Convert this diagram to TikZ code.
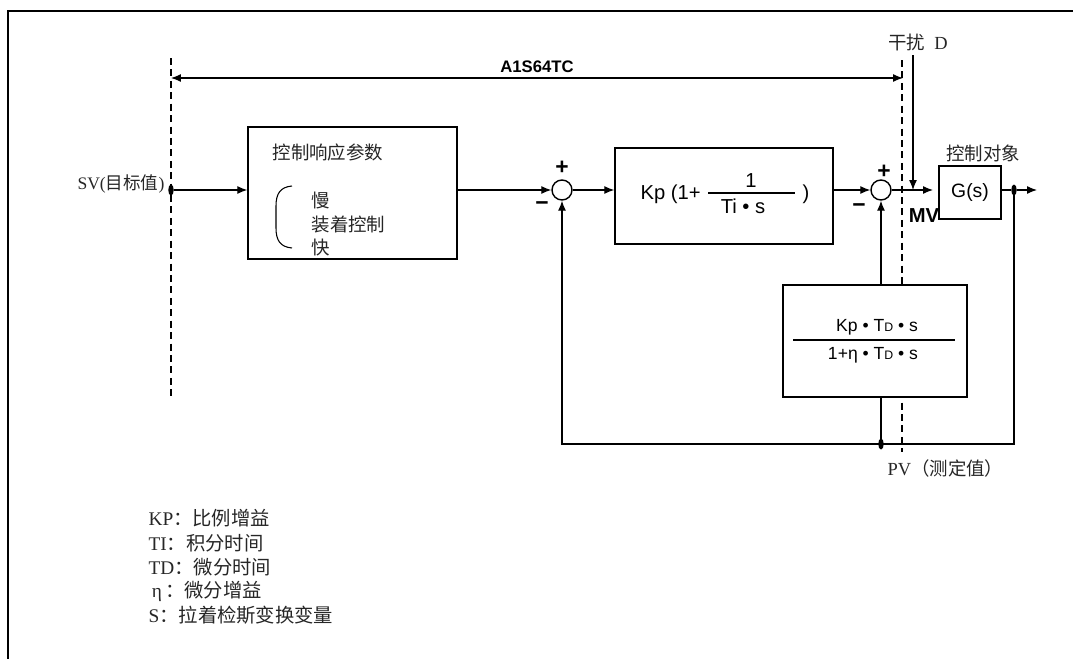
\documentclass[tikz,border=0pt]{standalone}
\usepackage{fontspec}
\setmainfont{Liberation Serif}
\newfontfamily\cjk{Noto Sans CJK SC}
\newfontfamily\sansf{Liberation Sans}
\usetikzlibrary{arrows.meta,shapes.geometric}
\begin{document}
\begin{tikzpicture}[x=0.02cm,y=-0.02cm,
  line width=0.7pt,
  >={Latex[length=2mm,width=1.6mm]},
  blk/.style={draw, fill=white, line width=0.8pt, inner sep=0pt},
  sumnode/.style={draw, circle, minimum size=0.4cm, inner sep=0pt, line width=0.8pt},
  dotnode/.style={ellipse, fill, minimum width=0.11cm, minimum height=0.22cm, inner sep=0pt},
  cjklbl/.style={font=\cjk\fontsize{10.5}{12}\selectfont, inner sep=0pt, text=black!85},
  serlbl/.style={font=\fontsize{10.5}{12}\selectfont, inner sep=0pt, text=black!85},
  leglbl/.style={font=\fontsize{11}{13}\selectfont, inner sep=0pt, text=black!85},
  sanslbl/.style={font=\sansf\fontsize{10}{12}\selectfont, inner sep=0pt},
  bigsans/.style={font=\sansf\fontsize{11.5}{13}\selectfont, inner sep=0pt},
  boldlbl/.style={font=\sansf\bfseries\fontsize{9.5}{12}\selectfont, inner sep=0pt},
  signlbl/.style={font=\sansf\bfseries\fontsize{13}{14}\selectfont, inner sep=0pt},
  guide/.style={dash pattern=on 4pt off 2.5pt, line width=0.7pt},
]
\useasboundingbox (0,0) rectangle (1073,659);
% frame
\draw[line width=1.1pt] (1073,11) -- (8,11) -- (8,659);

% guides
\draw[guide] (171,58) -- (171,398);
\draw[guide] (902,60) -- (902,452);

% dimension
\coordinate (dimL) at (171,78);
\coordinate (dimR) at (903,78);
\draw[<->] (dimL) -- (dimR);
\node[boldlbl] (dimlbl) at (537,67) {A1S64TC};

% blocks
\node[blk, minimum width=4.18cm, minimum height=2.64cm] (b1) at (352.5,193) {};
\node[blk, minimum width=4.36cm, minimum height=1.92cm] (b2) at (724,196) {};
\node[blk, minimum width=1.24cm, minimum height=1.06cm, font=\sansf\fontsize{11}{13}\selectfont] (g) at (970,192.5) {G(s)};
\node[blk, minimum width=3.68cm, minimum height=2.24cm] (b3) at (875,341) {};

\node[sumnode] (s1) at (562,190) {};
\node[sumnode] (s2) at (881,190) {};

% block 1 text
\node[cjklbl, anchor=west] (t1) at (272,152) {控制响应参数};
\draw[line width=0.6pt] (292,186) .. controls (280,187) and (276,194) .. (276,206) -- (276,228) .. controls (276,240) and (280,247) .. (292,248);
\node[cjklbl, anchor=west] (t2) at (311,200) {慢};
\node[cjklbl, anchor=west] (t3) at (311,224) {装着控制};
\node[cjklbl, anchor=west] (t4) at (311,248) {快};

% block 2 text
\node[bigsans, anchor=west] (kp) at (640,194) {Kp (1+};
\node[bigsans] (one) at (751,181) {1};
\draw[line width=0.6pt] (708,193) -- (795,193);
\node[bigsans] (tis) at (743,206) {Ti • s};
\node[bigsans] (rp) at (806,194) {)};

% block 3 text
\node[sanslbl] (num) at (877,327) {Kp • T{\fontsize{7}{8}\selectfont D} • s};
\draw[line width=0.6pt] (793,340) -- (955,340);
\node[sanslbl] (den) at (873,355) {1+η • T{\fontsize{7}{8}\selectfont D} • s};

% signs
\node[signlbl] (p1) at (562,168) {+};
\node[signlbl] (m1) at (542,206) {−};
\node[signlbl] (p2) at (884,172) {+};
\node[signlbl] (m2) at (859,208) {−};

% labels
\node[serlbl, anchor=east, font=\fontsize{10}{12}\selectfont] (sv) at (165,184) {SV({\cjk 目标值})};
\node[cjklbl] (obj) at (983,153) {控制对象};
\node[boldlbl, font=\sansf\bfseries\fontsize{11.5}{13}\selectfont] (mv) at (924,216) {MV};
\node[serlbl] (dist) at (918,42) {{\cjk 干扰}\ \ D};
\node[serlbl, anchor=west] (pv) at (887,468) {PV{\cjk （测定值）}};

% connectors
\node[dotnode] (svdot) at (171,190) {};
\draw[->] (svdot) -- (b1.west |- svdot);
\draw[->] (b1.east |- s1) -- (s1.west);
\draw[->] (s1.east) -- (b2.west |- s1);
\draw[->] (b2.east |- s2) -- (s2.west);
\coordinate (mvend) at (933,190);
\draw[->] (s2.east) -- (mvend);
\coordinate (dtop) at (913,55);
\draw[->] (dtop) -- (dtop |- s2);
\node[dotnode] (outdot) at (1014,190) {};
\coordinate (outend) at (1037,190);
\draw (g.east |- outdot) -- (outdot);
\draw[->] (outdot) -- (outend);
\node[dotnode] (pvdot) at (881,444) {};
\draw[->] (outdot.center) -- (outdot |- pvdot) -- (s1 |- pvdot) -- (s1.south);
\draw (pvdot.center) -- (pvdot |- b3.south);
\draw[->] (pvdot |- b3.north) -- (s2.south);

% legend
\node[leglbl, anchor=west] (l1) at (148,518) {KP{\cjk ：比例增益}};
\node[leglbl, anchor=west] (l2) at (148,543) {TI{\cjk ：积分时间}};
\node[leglbl, anchor=west] (l3) at (148,567) {TD{\cjk ：微分时间}};
\node[leglbl, anchor=west] (l4) at (148,591) {\,η\,{\cjk ：微分增益}};
\node[leglbl, anchor=west] (l5) at (148,615) {S{\cjk ：拉着检斯变换变量}};
\end{tikzpicture}
\end{document}
